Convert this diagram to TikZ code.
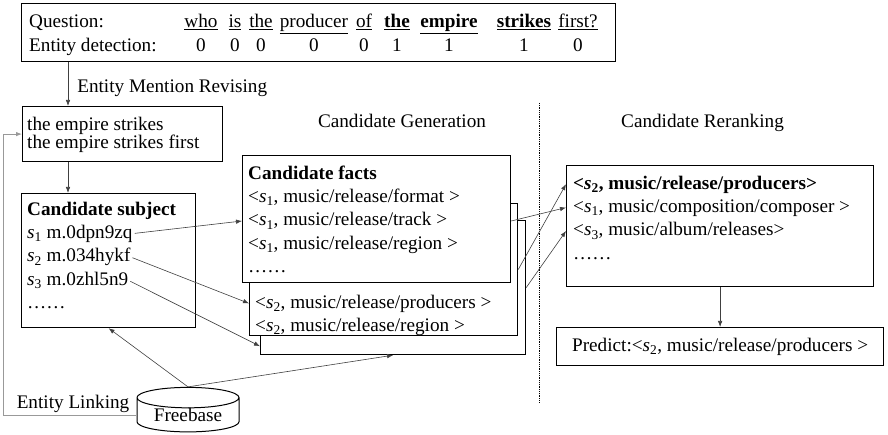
\documentclass[tikz,border=0pt]{standalone}
\usepackage{fontspec}
\setmainfont{Liberation Serif}
\usetikzlibrary{positioning,arrows.meta,shapes.geometric,calc}
\newcommand{\ent}[1]{\textit{s}\textsubscript{#1}}
\tikzset{
  >={Latex[length=6pt,width=4.5pt]},
  every node/.style={font=\fontsize{19.2}{23}\selectfont},
  box/.style={draw,line width=1.2pt,fill=white,inner sep=0pt,anchor=north west},
  textrow/.style={inner sep=0pt,anchor=north west,text height=14pt,text depth=4pt},
  nextrow/.style={below=5pt of #1.south west,anchor=north west},
  caption/.style={inner sep=0pt},
  link/.style={->,draw=black!75,line width=0.6pt},
  feedback/.style={->,draw=black!40,line width=0.9pt},
}

\begin{document}
\begin{tikzpicture}[x=1pt,y=-1pt]
  \useasboundingbox (0,0) rectangle (888,435);

  % question and entity detection
  \node[box,minimum width=594pt,minimum height=58pt] (query) at (21,3) {};
  \node[textrow,anchor=base west] (qlabel) at (29,28) {Question:};
  \node[textrow,anchor=base west] (dlabel) at (29,52) {Entity detection:};
  \foreach \cx/\word/\flag in {201/who/0,235/is/0,261/the/0,314/producer/0,364/of/0,
      397/\textbf{the}/1,449/\textbf{empire}/1,524/\textbf{strikes}/1,578/first?/0} {
    \node[textrow,anchor=base] (w\cx) at (\cx,28) {\underline{\word}};
    \node[textrow,anchor=base] (d\cx) at (\cx,52) {\flag};
  }

  % revised mentions
  \node[box,minimum width=200pt,minimum height=55pt] (mention) at (22,106) {};
  \node[textrow] (m1) at ($(mention.north west)+(5,10)$) {the empire strikes};
  \node[textrow,below=0pt of m1.south west,anchor=north west] (m2) {the empire strikes first};

  % candidate subjects
  \node[box,minimum width=174pt,minimum height=134pt] (subj) at (21,193) {};
  \node[textrow] (subjhead) at ($(subj.north west)+(6,8)$) {\textbf{Candidate subject}};
  \node[textrow,nextrow=subjhead] (s1) {\ent{1} m.0dpn9zq};
  \node[textrow,nextrow=s1] (s2) {\ent{2} m.034hykf};
  \node[textrow,nextrow=s2] (s3) {\ent{3} m.0zhl5n9};
  \node[textrow,nextrow=s3] (sdots) {……};

  % candidate facts (stacked)
  \node[box,minimum width=265pt,minimum height=134pt] (facts3) at (260,220) {};
  \node[box,minimum width=268pt,minimum height=132pt] (facts2) at (249,203) {};
  \node[box,minimum width=268pt,minimum height=127pt] (facts1) at (242,155) {};
  \node[textrow] (f1head) at ($(facts1.north west)+(6,10)$) {\textbf{Candidate facts}};
  \node[textrow,nextrow=f1head] (f1a) {<\ent{1}, music/release/format >};
  \node[textrow,nextrow=f1a] (f1b) {<\ent{1}, music/release/track >};
  \node[textrow,nextrow=f1b] (f1c) {<\ent{1}, music/release/region >};
  \node[textrow,nextrow=f1c] (f1dots) {……};
  \node[textrow] (f2a) at ($(facts2.west |- facts1.south)+(6,11)$) {<\ent{2}, music/release/producers >};
  \node[textrow,nextrow=f2a] (f2b) {<\ent{2}, music/release/region >};

  % reranking
  \node[box,minimum width=307pt,minimum height=121pt] (rerank) at (566,165) {};
  \node[textrow] (r1) at ($(rerank.north west)+(7,10)$) {\textbf{<\ent{2}, music/release/producers>}};
  \node[textrow,nextrow=r1] (r2) {<\ent{1}, music/composition/composer >};
  \node[textrow,nextrow=r2] (r3) {<\ent{3}, music/album/releases>};
  \node[textrow,nextrow=r3] (rdots) {……};
  \node[box,minimum width=327pt,minimum height=38pt] (predict) at (556,327) {Predict:<\ent{2}, music/release/producers >};

  \node[cylinder,shape border rotate=90,draw,line width=1pt,aspect=0.3,
        minimum width=102pt,minimum height=42pt,inner sep=0pt,text depth=0pt,
        yshift=-1pt] (freebase) at (188,414) {Freebase};

  % stage captions
  \node[caption] (generation) at (402,121) {Candidate Generation};
  \node[caption,anchor=west] (reranking) at (621,123) {Candidate Reranking};
  \node[caption,anchor=base east] (linking) at ($(freebase.west)+(-7,-7)$) {Entity Linking};
  \draw[densely dotted,line width=0.8pt] (539,103) -- (539,402);

  % connectors
  \coordinate (revise) at ($(mention.north west)+(46,0)$);
  \draw[link] (query.south -| revise) -- node[caption,pos=0.6,right=9pt] (revising) {Entity Mention Revising} (revise);
  \draw[link] (revise |- mention.south) -- (revise |- subj.north);
  \draw[feedback] (freebase.west) -| ($(mention.west)+(-19,0)$) -- (mention.west);
  \draw[link,shorten <=2pt] (s1.east) -- (f1b -| facts1.west);
  \draw[link,shorten <=2pt] (s2.east) -- (f2a -| facts2.west);
  \draw[link,shorten <=2pt] (s3.east) -- ($(facts3.south west)+(0,-9)$);
  \draw[link] (freebase.north) -- (subj.south);
  \draw[link] (freebase.north) -- (facts3.south);
  \draw[link] (f1b -| facts1.east) -- (r2 -| rerank.west);
  \draw[link] (facts2.east) -- (r1 -| rerank.west);
  \draw[link] (facts3.east) -- (r3 -| rerank.west);
  \draw[link] (rerank.south) -- (predict.north);
\end{tikzpicture}
\end{document}
